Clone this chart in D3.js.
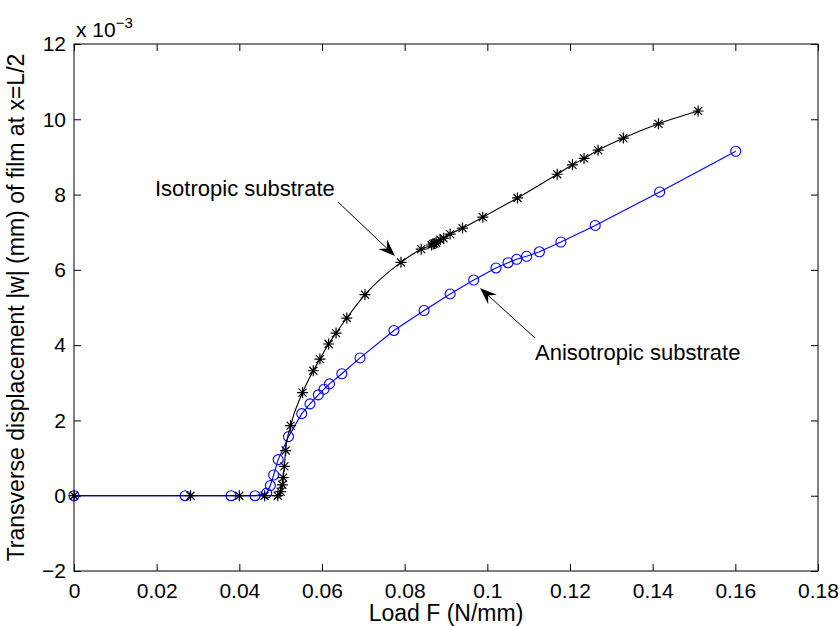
<!DOCTYPE html>
<html>
<head>
<meta charset="utf-8">
<script src="https://cdn.jsdelivr.net/npm/d3@7"></script>
<style>
  html, body { margin: 0; padding: 0; background: #fff; }
  text { font-family: "Liberation Sans", Arial, Helvetica, sans-serif; fill: #000; }
</style>
</head>
<body>
<div id="container"></div>
<script>
// load F (N/mm) and |w| (x 1e-3 mm)
const isoX = [0, 0.0282, 0.0400, 0.0461, 0.0493, 0.0500, 0.0504, 0.0506, 0.0509, 0.0512,
  0.0524, 0.0553, 0.0579, 0.0595, 0.0616, 0.0634, 0.0660, 0.0704, 0.0791, 0.0840,
  0.0865, 0.0869, 0.0872, 0.0876, 0.0886, 0.0894, 0.0910, 0.0940, 0.0989, 0.1073,
  0.1169, 0.1206, 0.1234, 0.1268, 0.1329, 0.1414, 0.1510];
const isoY = [0, 0, 0, 0, 0, 0.11, 0.29, 0.48, 0.78, 1.2,
  1.86, 2.74, 3.32, 3.63, 4.03, 4.32, 4.72, 5.34, 6.20, 6.55,
  6.66, 6.69, 6.70, 6.72, 6.80, 6.84, 6.95, 7.11, 7.40, 7.91,
  8.54, 8.79, 8.96, 9.18, 9.50, 9.88, 10.22];

const anisoX = [0, 0.0269, 0.0380, 0.0438, 0.0466, 0.0475, 0.0483, 0.0494, 0.0519, 0.0551,
  0.0571, 0.0591, 0.0605, 0.0618, 0.0648, 0.0692, 0.0774, 0.0847, 0.0910, 0.0967,
  0.1021, 0.1050, 0.1071, 0.1095, 0.1126, 0.1178, 0.1261, 0.1417, 0.1601];
const anisoY = [0, 0, 0, 0, 0.07, 0.27, 0.55, 0.96, 1.57, 2.18,
  2.44, 2.68, 2.83, 2.97, 3.24, 3.66, 4.39, 4.92, 5.36, 5.73,
  6.05, 6.19, 6.28, 6.36, 6.48, 6.74, 7.18, 8.07, 9.15];

const xTicks = [0, 0.02, 0.04, 0.06, 0.08, 0.1, 0.12, 0.14, 0.16, 0.18];
const xTickLabels = ['0', '0.02', '0.04', '0.06', '0.08', '0.1', '0.12', '0.14', '0.16', '0.18'];
const yTicks = [-2, 0, 2, 4, 6, 8, 10, 12];
const yTickLabels = ['\u22122', '0', '2', '4', '6', '8', '10', '12'];

const width = 840, height = 626;
const margin = { top: 44, right: 22, bottom: 55, left: 74 };
const fs = 21;

const svg = d3.select('div#container').append('svg')
  .attr('width', width).attr('height', height);

const x = d3.scaleLinear().domain([0, 0.18]).range([margin.left, width - margin.right]);
const y = d3.scaleLinear().domain([-2, 12]).range([height - margin.bottom, margin.top]);

// axes, ticks inside and mirrored on top/right like matlab
const tickLen = 7;
svg.append('g').attr('transform', `translate(0,${y(-2)})`)
  .call(d3.axisBottom(x).tickValues(xTicks).tickSize(-tickLen).tickPadding(12)
    .tickFormat((d, i) => xTickLabels[i]))
  .call(g => g.select('.domain').remove());
svg.append('g').attr('transform', `translate(0,${y(12)})`)
  .call(d3.axisTop(x).tickValues(xTicks).tickSize(-tickLen).tickFormat(''))
  .call(g => g.select('.domain').remove());
svg.append('g').attr('transform', `translate(${x(0)},0)`)
  .call(d3.axisLeft(y).tickValues(yTicks).tickSize(-tickLen).tickPadding(8)
    .tickFormat((d, i) => yTickLabels[i]))
  .call(g => g.select('.domain').remove());
svg.append('g').attr('transform', `translate(${x(0.18)},0)`)
  .call(d3.axisRight(y).tickValues(yTicks).tickSize(-tickLen).tickFormat(''))
  .call(g => g.select('.domain').remove());

svg.selectAll('.tick text').style('font-size', fs + 'px')
  .style('font-family', '"Liberation Sans", Arial, sans-serif');
svg.selectAll('.tick line').attr('stroke', '#000');

svg.append('rect')
  .attr('x', x(0)).attr('y', y(12))
  .attr('width', x(0.18) - x(0)).attr('height', y(-2) - y(12))
  .attr('fill', 'none').attr('stroke', '#000').attr('stroke-width', 1);

// exponent
const expo = svg.append('text').attr('x', x(0) + 2).attr('y', y(12) - 7).style('font-size', fs + 'px');
expo.append('tspan').text('x 10');
expo.append('tspan').attr('dy', -9).style('font-size', '15px').text('\u22123');

// axis titles
svg.append('text').attr('x', (x(0) + x(0.18)) / 2).attr('y', 621)
  .attr('text-anchor', 'middle').style('font-size', '23px').text('Load F (N/mm)');
svg.append('text')
  .attr('transform', `translate(24,${(y(-2) + y(12)) / 2}) rotate(-90)`)
  .attr('text-anchor', 'middle').style('font-size', '23px')
  .text('Transverse displacement |w| (mm) of film at x=L/2');

const aniso = anisoX.map((v, i) => [v, anisoY[i]]);
const iso = isoX.map((v, i) => [v, isoY[i]]);

svg.append('path').datum(aniso)
  .attr('fill', 'none').attr('stroke', '#0000ff').attr('stroke-width', 1.1)
  .attr('d', d3.line().x(d => x(d[0])).y(d => y(d[1])));
svg.selectAll('circle.aniso').data(aniso).enter().append('circle')
  .attr('class', 'aniso')
  .attr('cx', d => x(d[0])).attr('cy', d => y(d[1])).attr('r', 5)
  .attr('fill', 'none').attr('stroke', '#0000ff').attr('stroke-width', 1.1);

svg.append('path').datum(iso)
  .attr('fill', 'none').attr('stroke', '#000').attr('stroke-width', 1.1)
  .attr('d', d3.line().curve(d3.curveMonotoneX).x(d => x(d[0])).y(d => y(d[1])));
const s = 5.5, dd = 4;
const starPath = `M${-s},0L${s},0M0,${-s}L0,${s}M${-dd},${-dd}L${dd},${dd}M${-dd},${dd}L${dd},${-dd}`;
svg.selectAll('path.iso').data(iso).enter().append('path')
  .attr('class', 'iso')
  .attr('transform', d => `translate(${x(d[0])},${y(d[1])})`)
  .attr('d', starPath)
  .attr('fill', 'none').attr('stroke', '#000').attr('stroke-width', 1.2);

// annotation arrows
function arrow(x1, y1, x2, y2) {
  const a = Math.atan2(y2 - y1, x2 - x1);
  const L = 17, w = 6.5, notch = 11;
  const ca = Math.cos(a), sa = Math.sin(a);
  const bx = x2 - L * ca, by = y2 - L * sa;
  const nx = x2 - notch * ca, ny = y2 - notch * sa;
  svg.append('line').attr('x1', x1).attr('y1', y1).attr('x2', nx).attr('y2', ny)
    .attr('stroke', '#000').attr('stroke-width', 1);
  svg.append('path')
    .attr('d', `M${x2},${y2}L${bx - w * sa},${by + w * ca}L${nx},${ny}L${bx + w * sa},${by - w * ca}Z`)
    .attr('fill', '#000');
}
svg.append('text').attr('x', 155).attr('y', 196).style('font-size', '22px').text('Isotropic substrate');
arrow(338, 202, 395, 256);
svg.append('text').attr('x', 535).attr('y', 360).style('font-size', '22px').text('Anisotropic substrate');
arrow(535, 338, 480, 288);
</script>
</body>
</html>
